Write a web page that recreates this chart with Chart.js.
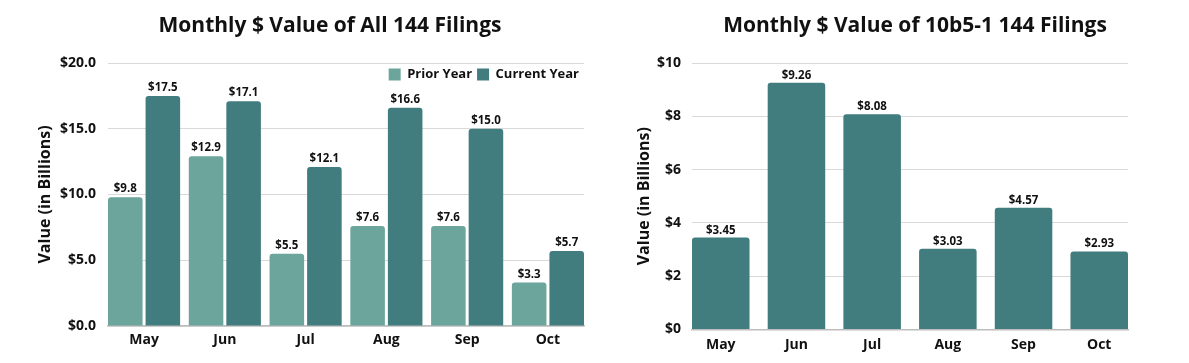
<!DOCTYPE html>
<html>
<head>
<meta charset="utf-8">
<script src="https://cdn.jsdelivr.net/npm/chart.js@4.4.1/dist/chart.umd.min.js"></script>
<style>
  html, body { margin: 0; padding: 0; background: #ffffff; }
  body { width: 1189px; height: 363px; position: relative; overflow: hidden; }
  .box { position: absolute; top: 0; height: 363px; }
  #leftBox { left: 0; width: 600px; }
  #rightBox { left: 600px; width: 589px; }
</style>
</head>
<body>
<div class="box" id="leftBox"><canvas id="allChart"></canvas></div>
<div class="box" id="rightBox"><canvas id="planChart"></canvas></div>
<script>
// ---------- data ----------
const months = ['May', 'Jun', 'Jul', 'Aug', 'Sep', 'Oct'];
const priorYear = [9.8, 12.9, 5.5, 7.6, 7.6, 3.3];
const currentYear = [17.5, 17.1, 12.1, 16.6, 15.0, 5.7];
const plan10b51 = [3.45, 9.26, 8.08, 3.03, 4.57, 2.93];
const leftTicks = [0, 5, 10, 15, 20];
const rightTicks = [0, 2, 4, 6, 8, 10];

const PRIOR = '#6ba59b';
const CURRENT = '#417c7e';
const TEXT = '#111111';

Chart.defaults.font.family = "'Open Sans', 'Noto Sans', sans-serif";
Chart.defaults.font.weight = 'bold';
Chart.defaults.color = TEXT;

// labels above the bars
const valueLabels = {
  id: 'valueLabels',
  afterDatasetsDraw(chart, args, opts) {
    const ctx = chart.ctx;
    ctx.save();
    ctx.font = `bold ${opts.size}px 'Open Sans', sans-serif`;
    ctx.fillStyle = TEXT;
    ctx.textAlign = 'center';
    ctx.textBaseline = 'alphabetic';
    chart.data.datasets.forEach((ds, i) => {
      const meta = chart.getDatasetMeta(i);
      meta.data.forEach((bar, j) => {
        const v = ds.data[j];
        ctx.fillText('$' + v.toFixed(opts.decimals), bar.x, bar.y - opts.gap);
      });
    });
    ctx.restore();
  }
};

// place the title box and put the legend inside the plot area
const placeBlocks = {
  id: 'placeBlocks',
  beforeLayout(chart) {
    const lg = chart.legend;
    if (lg && !lg._patched && chart.options.plugins.legend.display) {
      const orig = lg.fit.bind(lg);
      lg.fit = function () { orig(); this._realHeight = this.height; this.height = 0; };
      lg._patched = true;
    }
  },
  afterLayout(chart, args, opts) {
    const tb = chart.titleBlock;
    if (tb) {
      const half = (tb.right - tb.left) / 2;
      tb.left = opts.titleCenter - half;
      tb.right = opts.titleCenter + half;
    }
    const lg = chart.legend;
    if (lg && lg._patched) {
      lg.top = chart.chartArea.top;
      lg.height = lg._realHeight;
      lg.bottom = lg.top + lg.height;
      lg.adjustHitBoxes && lg.adjustHitBoxes();
    }
  }
};

function flushCategories(gap) {
  return function (scale) {
    const n = scale.getLabels().length;
    scale._startValue = -0.5 + gap / 2;
    scale._valueRange = n - gap;
  };
}

function yAxis(max, step, decimals, width, titlePad, tickPad) {
  return {
    min: 0, max: max,
    afterBuildTicks(s) { s.ticks = (max === 20 ? leftTicks : rightTicks).map(v => ({ value: v })); },
    afterFit(s) { s.width = width; },
    ticks: {
      padding: tickPad,
      font: { size: 14, weight: 'bold' },
      color: TEXT,
      callback: v => '$' + Number(v).toFixed(decimals)
    },
    grid: { color: '#d9d9d9', lineWidth: 1, drawTicks: false },
    border: { display: false },
    title: {
      display: true,
      text: 'Value (in Billions)',
      font: { size: 16, weight: 'bold' },
      color: TEXT,
      padding: { top: titlePad, bottom: 0 }
    }
  };
}

function xAxis(gap, height, pad) {
  return {
    afterBuildTicks: flushCategories(gap),
    afterFit(s) { s.height = height; },
    grid: { display: false, drawTicks: false },
    border: { display: true, color: '#bdbdbd', width: 1.5 },
    ticks: { padding: pad, font: { size: 14, weight: 'bold' }, color: TEXT }
  };
}

function titleOpts(text) {
  return {
    display: true,
    text: text,
    font: { size: 21, weight: 'bold' },
    color: TEXT,
    padding: { top: 13, bottom: 24.8 }
  };
}

function build() {
  new Chart(document.getElementById('allChart'), {
    type: 'bar',
    data: {
      labels: months,
      datasets: [
        { label: 'Prior Year', data: priorYear, backgroundColor: PRIOR,
          borderRadius: 3, categoryPercentage: 0.93, barPercentage: 0.92 },
        { label: 'Current Year', data: currentYear, backgroundColor: CURRENT,
          borderRadius: 3, categoryPercentage: 0.93, barPercentage: 0.92 }
      ]
    },
    options: {
      responsive: true,
      maintainAspectRatio: false,
      animation: false,
      layout: { padding: { left: 0, right: 16, top: 0, bottom: 0 } },
      scales: {
        x: xAxis(0.107, 37, 6),
        y: yAxis(20, 5, 1, 108, 35.4, 12)
      },
      plugins: {
        title: titleOpts('Monthly $ Value of All 144 Filings'),
        legend: {
          display: true,
          position: 'top',
          align: 'end',
          labels: {
            boxWidth: 12, boxHeight: 12, padding: 5,
            font: { size: 13, weight: 'bold' }, color: TEXT
          }
        },
        tooltip: { enabled: false },
        valueLabels: { size: 11.5, decimals: 1, gap: 5 },
        placeBlocks: { titleCenter: 330 }
      }
    },
    plugins: [valueLabels, placeBlocks]
  });

  new Chart(document.getElementById('planChart'), {
    type: 'bar',
    data: {
      labels: months,
      datasets: [
        { label: '10b5-1', data: plan10b51, backgroundColor: CURRENT,
          borderRadius: 3, categoryPercentage: 1, barPercentage: 0.76 }
      ]
    },
    options: {
      responsive: true,
      maintainAspectRatio: false,
      animation: false,
      layout: { padding: { left: 0, right: 61, top: 0, bottom: 0 } },
      scales: {
        x: xAxis(0.24, 33.5, 7),
        y: yAxis(10, 2, 0, 92, 34.9, 11)
      },
      plugins: {
        title: titleOpts('Monthly $ Value of 10b5-1 144 Filings'),
        legend: { display: false },
        tooltip: { enabled: false },
        valueLabels: { size: 11.5, decimals: 2, gap: 4 },
        placeBlocks: { titleCenter: 315 }
      }
    },
    plugins: [valueLabels, placeBlocks]
  });
}

if (document.fonts && document.fonts.load) {
  Promise.all([
    document.fonts.load("bold 14px 'Open Sans'"),
    document.fonts.load("bold 21px 'Open Sans'")
  ]).then(build, build);
} else {
  build();
}
</script>
</body>
</html>
